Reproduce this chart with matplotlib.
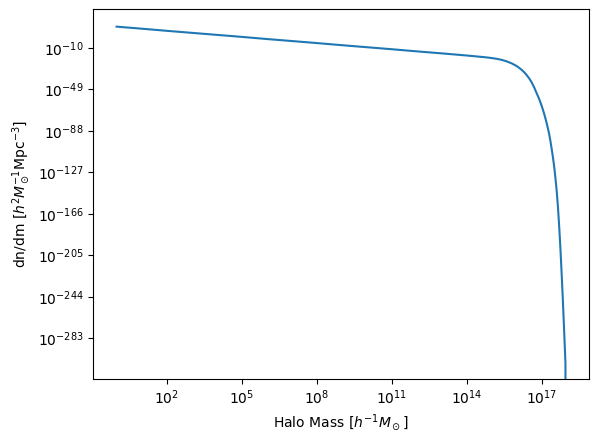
import numpy as np
import matplotlib
matplotlib.use("Agg")
import matplotlib.pyplot as plt
from matplotlib.ticker import FixedLocator, NullLocator, LogFormatterSciNotation

# log10 of halo mass [h^-1 Msun] and log10 of dn/dm
log_mass = [0, 1, 2, 3, 4, 5, 6, 7, 8, 9, 10, 11, 12, 13, 14, 14.5, 14.8, 15.0,
            15.2, 15.4, 15.6, 15.8, 16.0, 16.1, 16.2, 16.3, 16.4, 16.5, 16.6,
            16.7, 16.8, 16.85, 16.9, 16.95, 17.0, 17.05, 17.1, 17.15, 17.2,
            17.25, 17.3, 17.35, 17.4, 17.45, 17.5, 17.55, 17.6, 17.65, 17.7,
            17.75, 17.8, 17.85, 17.9, 17.95]
log_dndm = [9.8, 7.9, 5.9, 4.0, 2.1, 0.2, -1.8, -3.7, -5.6, -7.6, -9.5, -11.4,
            -13.4, -15.3, -17.3, -18.4, -19.1, -19.7, -20.4, -21.4, -22.8,
            -24.7, -27.2, -28.9, -30.8, -33.0, -35.7, -38.8, -42.6, -47.3,
            -52.8, -55.4, -58.3, -61.4, -64.7, -68.3, -72.2, -76.4, -80.9,
            -85.9, -91.2, -97.8, -105.1, -113.0, -121.7, -132.5, -144.4,
            -159.5, -178.0, -199.0, -223.0, -249.0, -277.0, -306.0]
# final point: the function underflows to zero at 1e18
last_mass = 1e18
last_dndm = 0.0

x_tick_exp = [2, 5, 8, 11, 14, 17]
y_tick_exp = [-10, -49, -88, -127, -166, -205, -244, -283]

mass = np.append(10.0 ** np.array(log_mass), last_mass)
dndm = np.append(10.0 ** np.array(log_dndm), last_dndm)

W, H = 599, 443
fig = plt.figure(figsize=(W / 100, H / 100), dpi=100)
ax = fig.add_axes([93.3 / W, (H - 379) / H, (588.7 - 93.3) / W, (379 - 9.3) / H])
ax.plot(mass, dndm, color="C0", lw=1.5)
ax.set_xscale("log")
ax.set_yscale("log")
ax.set_xlim(10 ** -0.93, 10 ** 18.88)
ax.set_ylim(10 ** -321.2, 10 ** 26.1)

ax.xaxis.set_major_locator(FixedLocator([10.0 ** e for e in x_tick_exp]))
ax.yaxis.set_major_locator(FixedLocator([10.0 ** e for e in y_tick_exp]))
ax.xaxis.set_minor_locator(NullLocator())
ax.yaxis.set_minor_locator(NullLocator())
ax.xaxis.set_major_formatter(LogFormatterSciNotation())
ax.yaxis.set_major_formatter(LogFormatterSciNotation())

ax.set_xlabel(r"Halo Mass [$h^{-1}M_\odot$]")
ax.set_ylabel(r"dn/dm [$h^2M_\odot^{-1}$Mpc$^{-3}$]")

fig.savefig("out.png", dpi=100)
